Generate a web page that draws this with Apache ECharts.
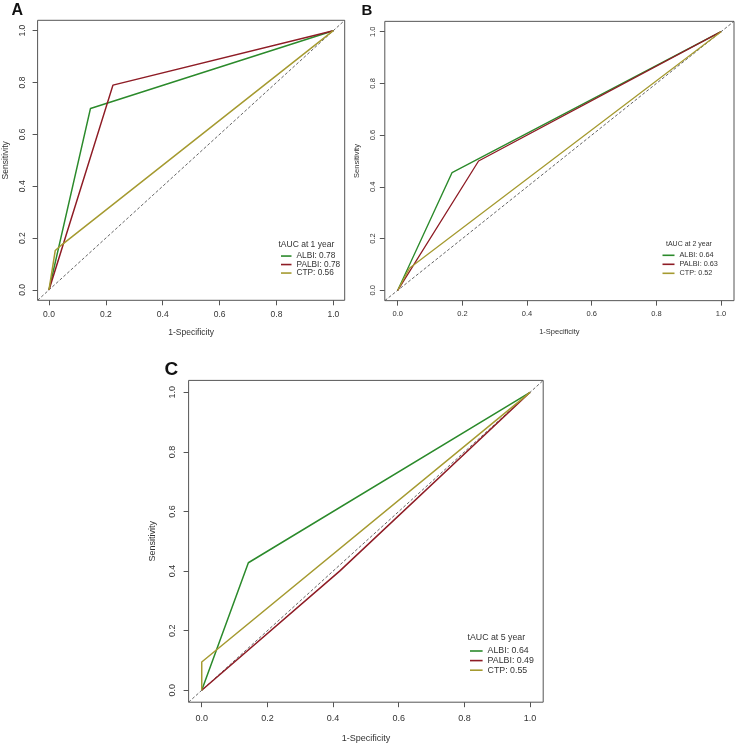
<!DOCTYPE html>
<html>
<head>
<meta charset="utf-8">
<script src="https://cdn.jsdelivr.net/npm/echarts@6/dist/echarts.min.js"></script>
<style>
html,body{margin:0;padding:0;background:#fff;}
#chart{width:753px;height:746px;}
</style>
</head>
<body>
<div id="chart"></div>
<script>
// ---- data ----
const tickValues = [0, 0.2, 0.4, 0.6, 0.8, 1.0];
const diag = [[-0.04, -0.04], [1.04, 1.04]];

const aALBI  = [[0, 0], [0.146, 0.70], [1, 1]];
const aPALBI = [[0, 0], [0.225, 0.79], [1, 1]];
const aCTP   = [[0, 0], [0.022, 0.152], [0.046, 0.175], [1, 1]];

const bALBI  = [[0, 0], [0.168, 0.455], [1, 1]];
const bPALBI = [[0, 0], [0.25, 0.50], [1, 1]];
const bCTP   = [[0, 0], [0.036, 0.085], [1, 1]];

const cALBI  = [[0, 0], [0.142, 0.428], [1, 1]];
const cPALBI = [[0, 0], [0.42, 0.40], [1, 1]];
const cCTP   = [[0, 0], [0, 0.095], [1, 1]];

const namesA = ['ALBI: 0.78', 'PALBI: 0.78', 'CTP: 0.56'];
const namesB = ['ALBI: 0.64', 'PALBI: 0.63', 'CTP: 0.52'];
const namesC = ['ALBI: 0.64', 'PALBI: 0.49', 'CTP: 0.55'];
const headers = ['tAUC at 1 year', 'tAUC at 2 year', 'tAUC at 5 year'];
const panelLetters = ['A', 'B', 'C'];

const colors = ['#2b8a2b', '#8e1c25', '#a59a30'];
const FONT = 'Liberation Sans, Arial, Helvetica, sans-serif';
const TXT = '#333';

// ---- layout (pixels) ----
const panels = [
  {grid:{left:36.9, top:20.3, width:307.8, height:280}, fs:8.5, lm:[9.5,10.3], ng:[27.7,27.6], lw:1.5,
   leg:{left:281, top:251.8, iw:10.5, lh:8.5, fs:8.3}, head:{left:278.5, top:240.2, fs:8.5},
   letter:{left:11.5, top:2.5, fs:16}},
  {grid:{left:384.8, top:21.35, width:349.2, height:279.3}, fs:7.5, lm:[8.9,7.8], ng:[27.3,24.3], lw:1.3,
   leg:{left:662.5, top:250.8, iw:12, lh:9, fs:7.3}, head:{left:666, top:240.6, fs:7},
   letter:{left:361.5, top:3, fs:15}},
  {grid:{left:188.6, top:380.4, width:354.6, height:321.8}, fs:9, lm:[11.8,11.4], ng:[32.3,31.2], lw:1.5,
   leg:{left:470, top:646.2, iw:12.6, lh:9.6, fs:8.8}, head:{left:467.5, top:633.1, fs:8.8},
   letter:{left:164.5, top:360.5, fs:19}}
];
const seriesData = [[aALBI, aPALBI, aCTP], [bALBI, bPALBI, bCTP], [cALBI, cPALBI, cCTP]];
const seriesNames = [namesA, namesB, namesC];

const grid = [], xAxis = [], yAxis = [], series = [], legend = [], title = [];
panels.forEach((p, i) => {
  grid.push(Object.assign({show:true, borderColor:'#555', borderWidth:1, backgroundColor:'transparent'}, p.grid));
  const common = {
    type:'value', gridIndex:i, min:-0.04, max:1.04,
    splitLine:{show:false},
    axisLine:{show:false, onZero:false},
    axisTick:{show:true, length:5, customValues:tickValues, lineStyle:{color:'#555', width:1}},
    nameLocation:'middle',
    nameTextStyle:{fontSize:p.fs, color:TXT, fontFamily:FONT}
  };
  xAxis.push(Object.assign({}, common, {
    name:'1-Specificity', nameGap:p.ng[0],
    axisLabel:{customValues:tickValues, margin:p.lm[0], fontSize:p.fs, color:TXT, fontFamily:FONT,
      formatter:v => v.toFixed(1)}
  }));
  yAxis.push(Object.assign({}, common, {
    name:'Sensitivity', nameGap:p.ng[1], nameRotate:90,
    axisLabel:{customValues:tickValues, margin:p.lm[1], rotate:90, fontSize:p.fs, color:TXT, fontFamily:FONT,
      formatter:v => v.toFixed(1)}
  }));
  series.push({
    type:'line', xAxisIndex:i, yAxisIndex:i, data:diag, symbol:'none', silent:true,
    lineStyle:{color:'#555', width:0.9, type:[3, 2]}, z:1
  });
  seriesData[i].forEach((d, k) => {
    series.push({
      type:'line', name:seriesNames[i][k], xAxisIndex:i, yAxisIndex:i, data:d,
      symbol:'none', color:colors[k], lineStyle:{width:p.lw, color:colors[k]}, z:2 + k
    });
  });
  legend.push({
    orient:'vertical', left:p.leg.left, top:p.leg.top, padding:0, itemGap:0,
    itemWidth:p.leg.iw, itemHeight:1.6, icon:'rect', selectedMode:false,
    textStyle:{fontSize:p.leg.fs, lineHeight:p.leg.lh, color:TXT, fontFamily:FONT},
    data:seriesNames[i]
  });
  title.push({
    text:headers[i], left:p.head.left, top:p.head.top, padding:0,
    textStyle:{fontSize:p.head.fs, fontWeight:'normal', color:TXT, fontFamily:FONT, lineHeight:p.head.fs}
  });
  title.push({
    text:panelLetters[i], left:p.letter.left, top:p.letter.top, padding:0,
    textStyle:{fontSize:p.letter.fs, fontWeight:'bold', color:'#111', fontFamily:FONT, lineHeight:p.letter.fs}
  });
});

const chart = echarts.init(document.getElementById('chart'), null, {renderer:'canvas'});
chart.setOption({
  animation:false,
  backgroundColor:'#fff',
  title, grid, xAxis, yAxis, series, legend,
  tooltip:{show:false}
});
</script>
</body>
</html>
